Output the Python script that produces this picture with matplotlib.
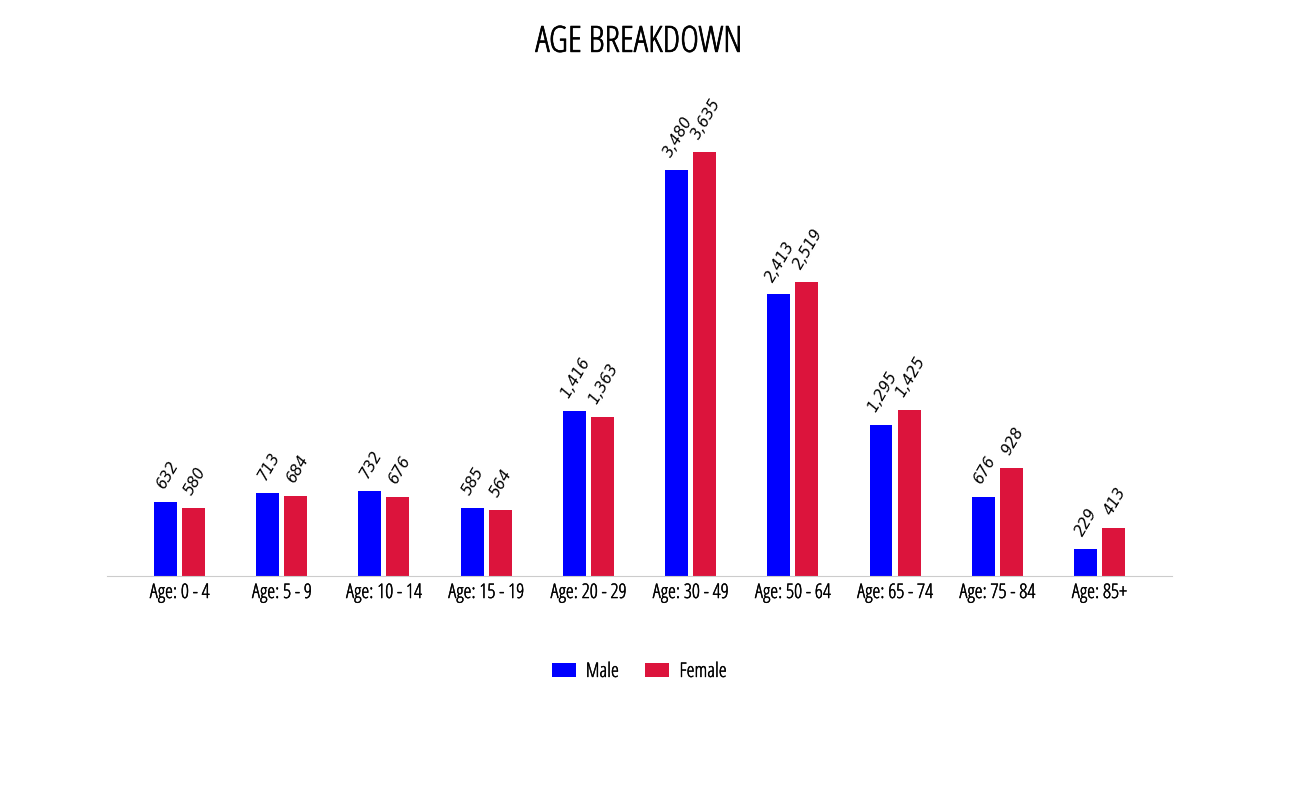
import matplotlib.pyplot as plt
from matplotlib import font_manager as fm
import matplotlib.patheffects as pe
import numpy as np

# age groups and counts
categories = ["Age: 0 - 4", "Age: 5 - 9", "Age: 10 - 14", "Age: 15 - 19", "Age: 20 - 29",
              "Age: 30 - 49", "Age: 50 - 64", "Age: 65 - 74", "Age: 75 - 84", "Age: 85+"]
male = [632, 713, 732, 585, 1416, 3480, 2413, 1295, 676, 229]
female = [580, 684, 676, 564, 1363, 3635, 2519, 1425, 928, 413]


def cond_font(size):
    # pick the condensed Open Sans file, fall back to DejaVu
    for f in fm.fontManager.ttflist:
        if f.name == "Open Sans" and f.stretch == "condensed" and f.style == "normal":
            return fm.FontProperties(fname=f.fname, size=size)
    return fm.FontProperties(family="DejaVu Sans", size=size)


def oblique_font(size):
    # regular-width DejaVu Sans Oblique for the value labels
    for f in fm.fontManager.ttflist:
        if (f.name == "DejaVu Sans" and f.style in ("oblique", "italic")
                and f.stretch == "normal" and f.weight in (400, "normal")
                and "Condensed" not in f.fname):
            return fm.FontProperties(fname=f.fname, size=size)
    return fm.FontProperties(family="DejaVu Sans", size=size)


# the condensed file is a light weight, thicken it a little
thick = [pe.withStroke(linewidth=0.3, foreground="black")]

fig = plt.figure(figsize=(12.94, 7.99), dpi=100)
ax = fig.add_axes([0.0827, 0.279, 0.823, 0.615])

x = np.arange(len(categories))
w = 0.225
off = 0.137
b1 = ax.bar(x - off, male, w, color="#0000ff", label="Male")
b2 = ax.bar(x + off, female, w, color="#dc143c", label="Female")

# rotated value labels above each bar
lab_font = oblique_font(11)
for bars in (b1, b2):
    for rect in bars:
        h = rect.get_height()
        ax.annotate(f"{h:,}", (rect.get_x() + rect.get_width() / 2, h),
                    xytext=(1, 7.5), textcoords="offset points",
                    rotation=60, ha="center", va="bottom",
                    fontproperties=lab_font)

ax.set_xlim(-0.71, 9.71)
ax.set_ylim(0, 4210)
ax.set_xticks(x)
ax.set_xticklabels(categories, fontproperties=cond_font(14.5), path_effects=thick)
ax.tick_params(axis="x", length=0, pad=5)
ax.set_yticks([])
for s in ["top", "right", "left"]:
    ax.spines[s].set_visible(False)
ax.spines["bottom"].set_color("#cccccc")

fig.text(0.494, 0.947, "AGE BREAKDOWN", ha="center", va="center",
         fontproperties=cond_font(26), path_effects=[pe.withStroke(linewidth=0.5, foreground="black")])

leg = fig.legend(loc="center", bbox_to_anchor=(0.494, 0.159), ncol=2, frameon=False,
                 prop=cond_font(14.5), handlelength=1.2, handleheight=0.65,
                 handletextpad=0.5, columnspacing=1.3)
for t in leg.get_texts():
    t.set_path_effects(thick)

fig.savefig("out.png", dpi=100)
